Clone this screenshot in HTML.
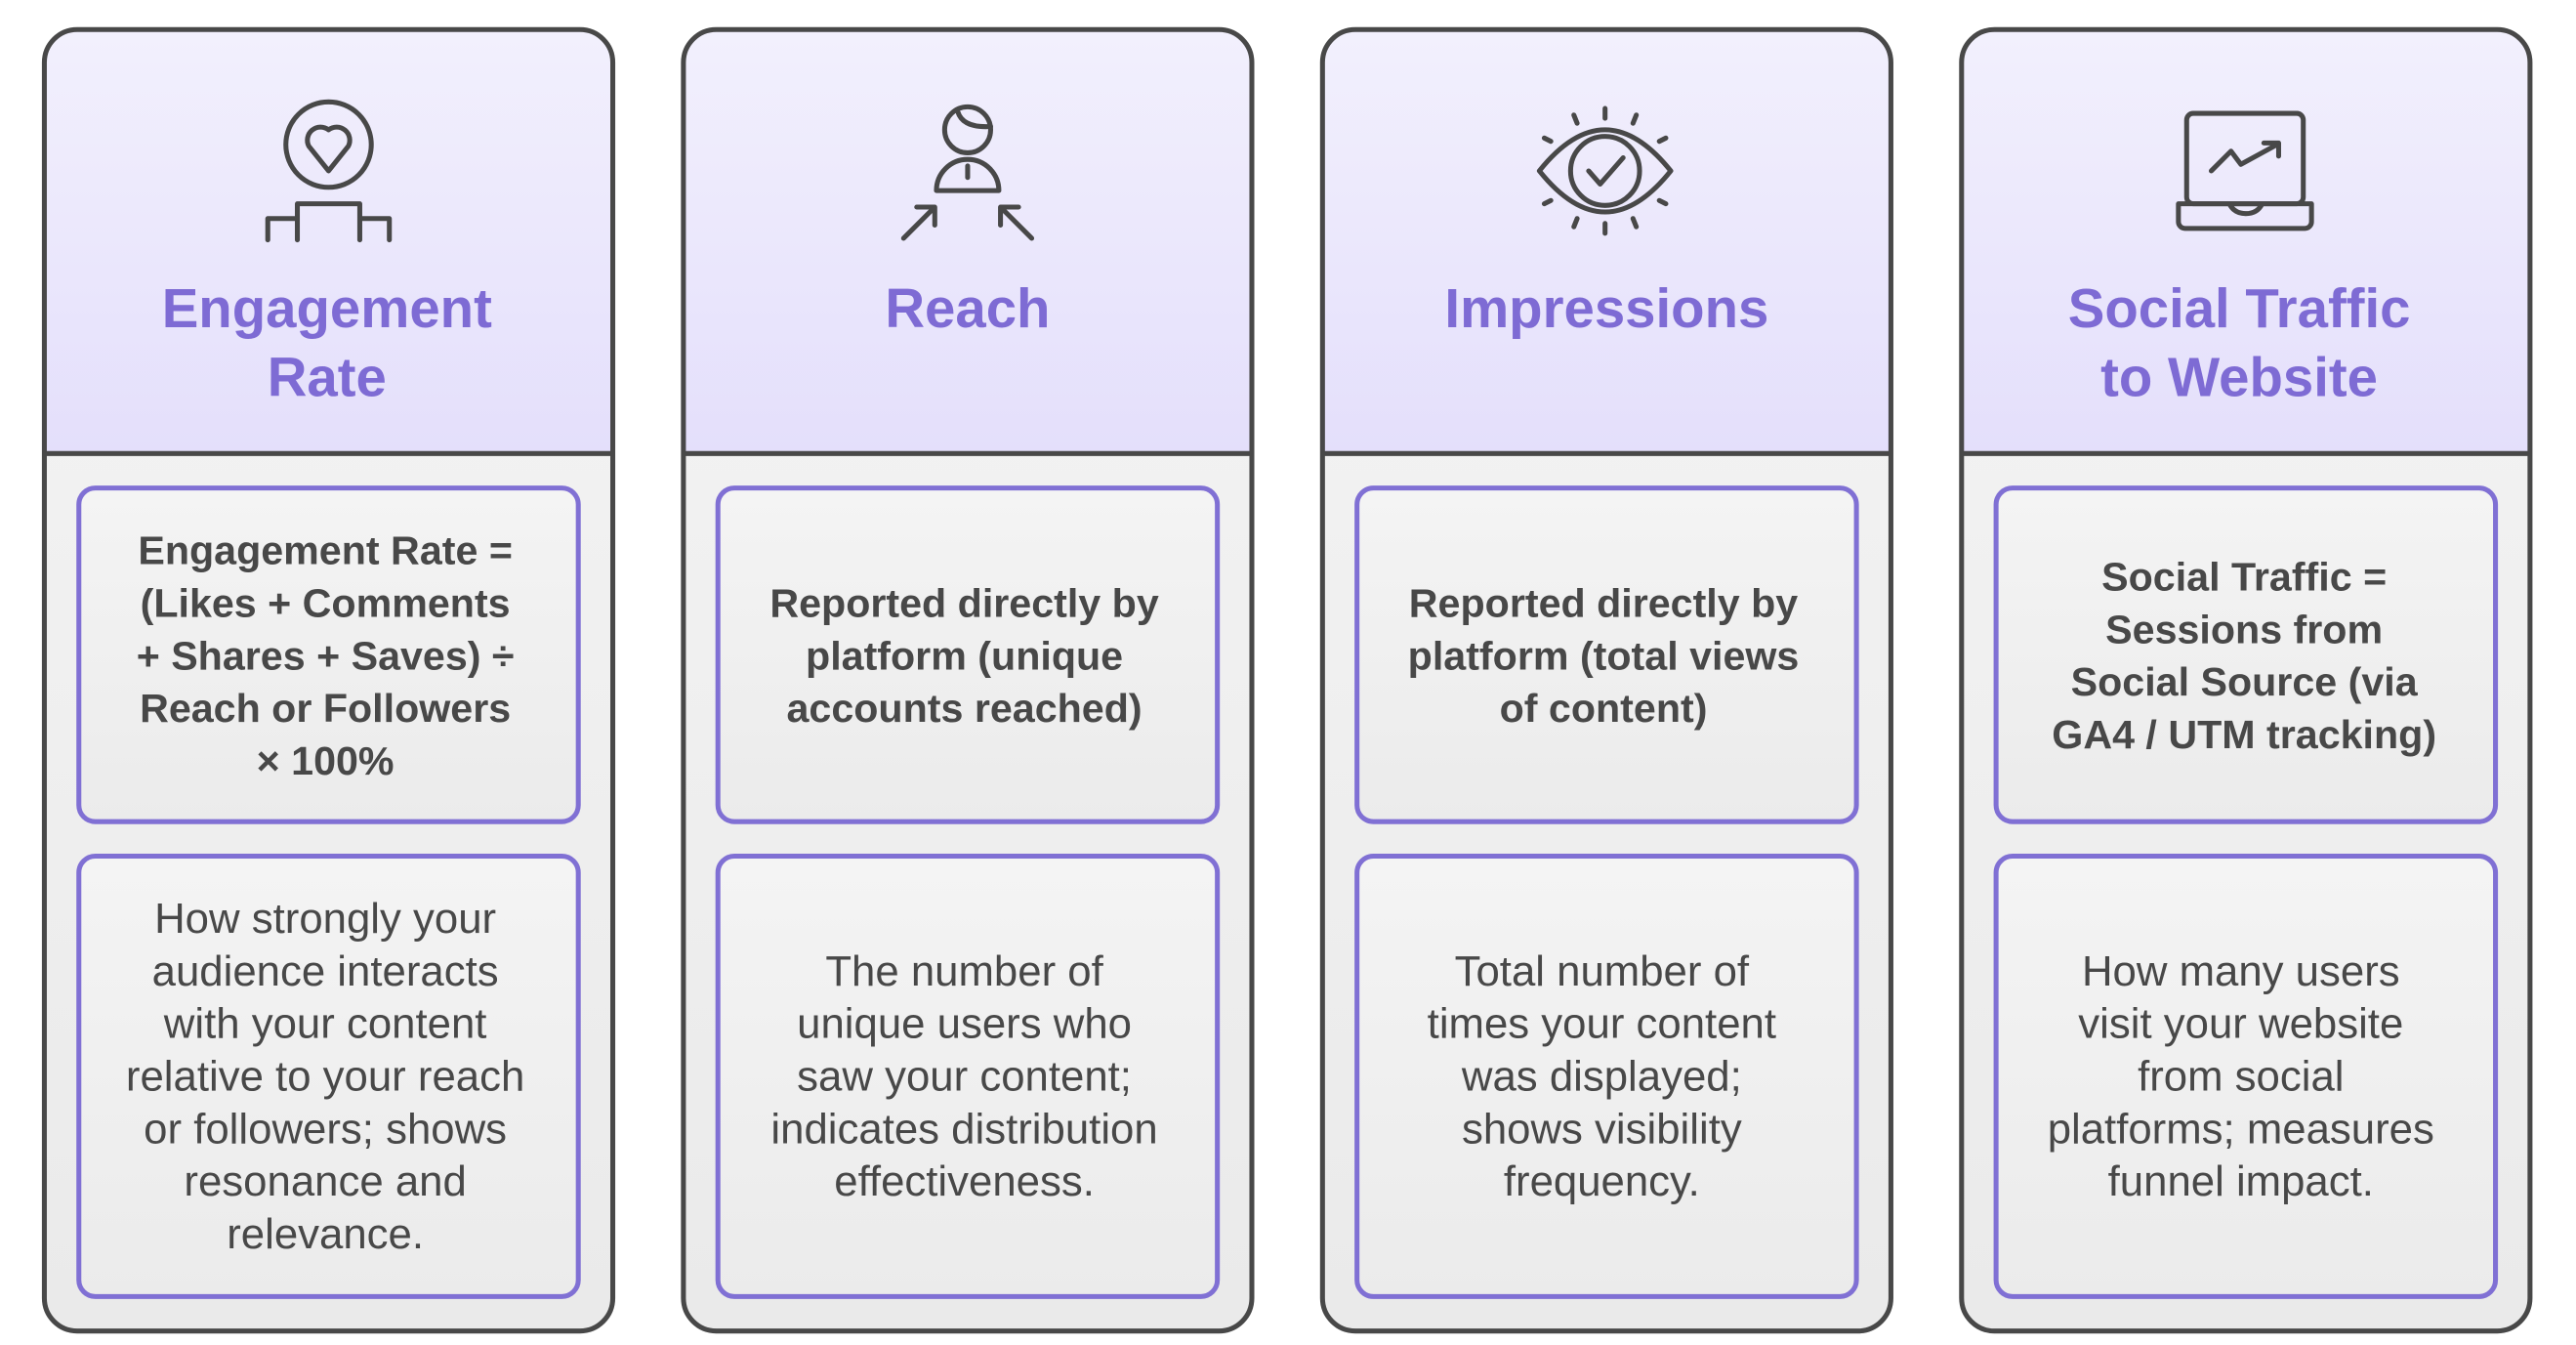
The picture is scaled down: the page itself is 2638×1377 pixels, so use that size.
<!DOCTYPE html>
<html><head><meta charset="utf-8"><style>html,body{margin:0;padding:0;background:#fff}svg{display:block}</style></head>
<body>
<svg width="2638" height="1377" viewBox="0 0 1568 818.5" preserveAspectRatio="none" xmlns="http://www.w3.org/2000/svg">
<defs>
<linearGradient id="hg" x1="0" y1="0" x2="0" y2="1"><stop offset="0" stop-color="#f2f0fd"/><stop offset="1" stop-color="#e4dffb"/></linearGradient>
<linearGradient id="bg" x1="0" y1="0" x2="0" y2="1"><stop offset="0" stop-color="#f5f5f5"/><stop offset="1" stop-color="#eaeaea"/></linearGradient>
<linearGradient id="ig" x1="0" y1="0" x2="0" y2="1"><stop offset="0" stop-color="#f4f4f4"/><stop offset="1" stop-color="#ebebeb"/></linearGradient>
</defs>
<g id="cards" stroke-linejoin="round">
<g transform="translate(0,0)">
<rect x="27" y="18" width="346" height="792" rx="20" fill="url(#bg)"/>
<path d="M27,276 V38 A20,20 0 0 1 47,18 H353 A20,20 0 0 1 373,38 V276 Z" fill="url(#hg)"/>
<line x1="27" y1="276" x2="373" y2="276" stroke="#484848" stroke-width="3"/>
<rect x="27" y="18" width="346" height="792" rx="20" fill="none" stroke="#484848" stroke-width="3"/>
<rect x="48" y="297" width="304" height="203" rx="10" fill="url(#ig)" stroke="#8070d4" stroke-width="3"/>
<rect x="48" y="521" width="304" height="268" rx="10" fill="url(#ig)" stroke="#8070d4" stroke-width="3"/>
</g>
<g transform="translate(389,0)">
<rect x="27" y="18" width="346" height="792" rx="20" fill="url(#bg)"/>
<path d="M27,276 V38 A20,20 0 0 1 47,18 H353 A20,20 0 0 1 373,38 V276 Z" fill="url(#hg)"/>
<line x1="27" y1="276" x2="373" y2="276" stroke="#484848" stroke-width="3"/>
<rect x="27" y="18" width="346" height="792" rx="20" fill="none" stroke="#484848" stroke-width="3"/>
<rect x="48" y="297" width="304" height="203" rx="10" fill="url(#ig)" stroke="#8070d4" stroke-width="3"/>
<rect x="48" y="521" width="304" height="268" rx="10" fill="url(#ig)" stroke="#8070d4" stroke-width="3"/>
</g>
<g transform="translate(778,0)">
<rect x="27" y="18" width="346" height="792" rx="20" fill="url(#bg)"/>
<path d="M27,276 V38 A20,20 0 0 1 47,18 H353 A20,20 0 0 1 373,38 V276 Z" fill="url(#hg)"/>
<line x1="27" y1="276" x2="373" y2="276" stroke="#484848" stroke-width="3"/>
<rect x="27" y="18" width="346" height="792" rx="20" fill="none" stroke="#484848" stroke-width="3"/>
<rect x="48" y="297" width="304" height="203" rx="10" fill="url(#ig)" stroke="#8070d4" stroke-width="3"/>
<rect x="48" y="521" width="304" height="268" rx="10" fill="url(#ig)" stroke="#8070d4" stroke-width="3"/>
</g>
<g transform="translate(1167,0)">
<rect x="27" y="18" width="346" height="792" rx="20" fill="url(#bg)"/>
<path d="M27,276 V38 A20,20 0 0 1 47,18 H353 A20,20 0 0 1 373,38 V276 Z" fill="url(#hg)"/>
<line x1="27" y1="276" x2="373" y2="276" stroke="#484848" stroke-width="3"/>
<rect x="27" y="18" width="346" height="792" rx="20" fill="none" stroke="#484848" stroke-width="3"/>
<rect x="48" y="297" width="304" height="203" rx="10" fill="url(#ig)" stroke="#8070d4" stroke-width="3"/>
<rect x="48" y="521" width="304" height="268" rx="10" fill="url(#ig)" stroke="#8070d4" stroke-width="3"/>
</g>
</g>

<g fill="none" stroke="#484848" stroke-width="3" stroke-linecap="round" stroke-linejoin="round">
<circle cx="200" cy="88" r="26"/>
<path d="M200,104 L188,89 A8,8 0 0 1 200,79 A8,8 0 0 1 212,89 Z"/>
<path d="M163,146 V133 H181 V124 H219 V133 H237 V146 M181,133 V146 M219,133 V146"/>

<circle cx="589" cy="79" r="14"/>
<path d="M583,68 Q586,78 603,77"/>
<path d="M570,116 A19,19 0 0 1 608,116 Z"/>
<line x1="589" y1="101" x2="589" y2="108"/>
<path d="M550,145 L569,126 M558,126 H569 V137"/>
<path d="M628,145 L609,126 M620,126 H609 V137"/>

<path d="M937,104 Q977,54 1017,104 Q977,154 937,104 Z"/>
<circle cx="977" cy="104" r="21"/>
<path d="M967,104 L974,112 L988,96"/>
<path d="M977,66 V72 M977,136 V142 M958,70 L960,75 M996,70 L994,75 M958,138 L960,133 M996,138 L994,133 M940,84 L944,86 M1014,84 L1010,86 M940,124 L944,122 M1014,124 L1010,122"/>

<rect x="1331" y="69" width="71" height="55" rx="4"/>
<path d="M1326,124 H1407 V135 A4,4 0 0 1 1403,139 H1330 A4,4 0 0 1 1326,135 Z M1357,124 Q1360,130 1367,130 Q1374,130 1377,124"/>
<path d="M1346,104 L1358,92 L1364,100 L1386,88 M1378,87 H1387 V95"/>
</g>

<g font-family="Liberation Sans, sans-serif" font-weight="bold" font-size="33.5" fill="#7e6bd4" text-anchor="middle">
<text x="199" y="199">Engagement</text>
<text x="199" y="241">Rate</text>
<text x="589" y="199">Reach</text>
<text x="978" y="199">Impressions</text>
<text x="1363" y="199">Social Traffic</text>
<text x="1363" y="241">to Website</text>
</g>

<g font-family="Liberation Sans, sans-serif" font-weight="bold" font-size="24.5" fill="#484848" text-anchor="middle" dominant-baseline="central">
<text x="198" y="335">Engagement Rate =</text>
<text x="198" y="367">(Likes + Comments</text>
<text x="198" y="399">+ Shares + Saves) ÷</text>
<text x="198" y="431">Reach or Followers</text>
<text x="198" y="463">× 100%</text>
<text x="587" y="367">Reported directly by</text>
<text x="587" y="399">platform (unique</text>
<text x="587" y="431">accounts reached)</text>
<text x="976" y="367">Reported directly by</text>
<text x="976" y="399">platform (total views</text>
<text x="976" y="431">of content)</text>
<text x="1366" y="351">Social Traffic =</text>
<text x="1366" y="383">Sessions from</text>
<text x="1366" y="415">Social Source (via</text>
<text x="1366" y="447">GA4 / UTM tracking)</text>
</g>

<g font-family="Liberation Sans, sans-serif" font-size="26" fill="#484848" text-anchor="middle" dominant-baseline="central">
<text x="198" y="559">How strongly your</text>
<text x="198" y="591">audience interacts</text>
<text x="198" y="623">with your content</text>
<text x="198" y="655">relative to your reach</text>
<text x="198" y="687">or followers; shows</text>
<text x="198" y="719">resonance and</text>
<text x="198" y="751">relevance.</text>
<text x="587" y="591">The number of</text>
<text x="587" y="623">unique users who</text>
<text x="587" y="655">saw your content;</text>
<text x="587" y="687">indicates distribution</text>
<text x="587" y="719">effectiveness.</text>
<text x="975" y="591">Total number of</text>
<text x="975" y="623">times your content</text>
<text x="975" y="655">was displayed;</text>
<text x="975" y="687">shows visibility</text>
<text x="975" y="719">frequency.</text>
<text x="1364" y="591">How many users</text>
<text x="1364" y="623">visit your website</text>
<text x="1364" y="655">from social</text>
<text x="1364" y="687">platforms; measures</text>
<text x="1364" y="719">funnel impact.</text>
</g>
</svg>
</body></html>
